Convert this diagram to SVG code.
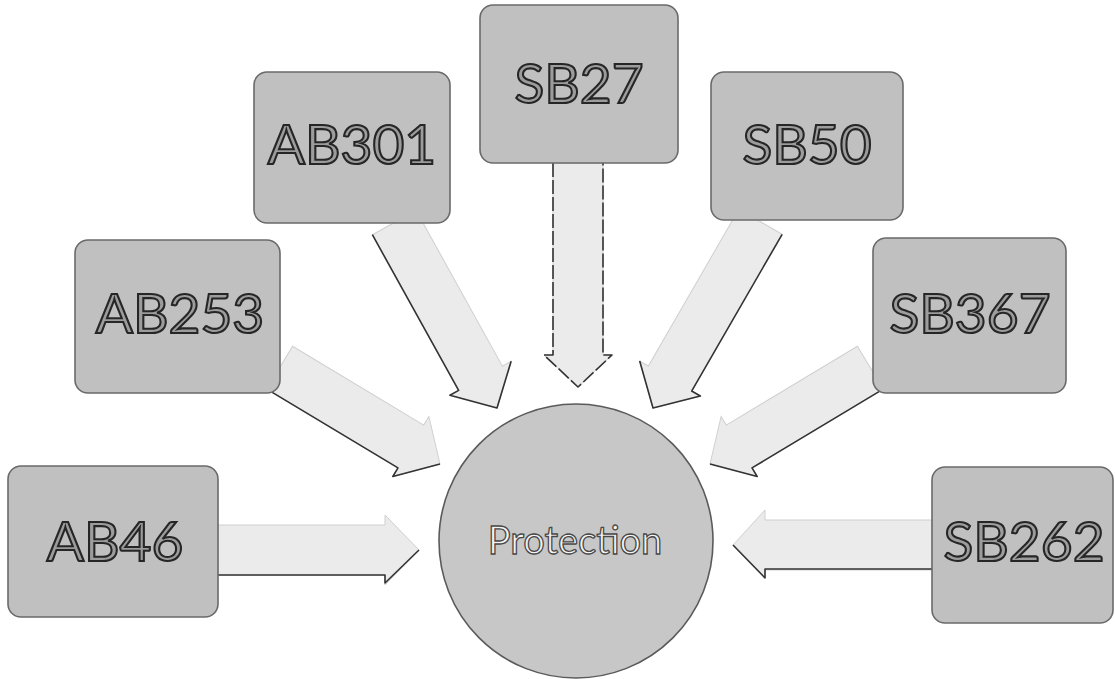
<svg xmlns="http://www.w3.org/2000/svg" width="1115" height="679" viewBox="0 0 1115 679">
<style>
  .box{fill:#c0c0c0;stroke:#6a6a6a;stroke-width:1.6}
  .lbl{font-family:Lato,"Open Sans","Liberation Sans",sans-serif;font-size:55px;fill:#9c9c9c;stroke:#262626;stroke-width:2.1;text-anchor:middle}
  .ctr{font-family:Lato,"Open Sans","Liberation Sans",sans-serif;font-size:38px;fill:#f4f4f4;stroke:#484848;stroke-width:1.3;text-anchor:middle}
  .arw{fill:#ebebeb;stroke:#cfcfcf;stroke-width:1}
  .edge{fill:none;stroke:#333;stroke-width:1.6;stroke-linejoin:round}
  .circ{fill:#c7c7c7;stroke:#5a5a5a;stroke-width:1.6}
</style>
<rect width="1115" height="679" fill="#ffffff"/>
<g id="connectors">
  <!-- AB46 -->
  <g transform="translate(419,550)">
    <path class="arw" d="M0,0 L-34,-35 L-34,-25 L-202,-25 L-202,25 L-34,25 L-34,35 Z"/>
    <path class="edge" d="M-202,25 L-34,25 L-34,33 L0,0"/>
  </g>
  <!-- AB253 -->
  <g transform="translate(440,464) rotate(31)">
    <path class="arw" d="M0,0 L-34,-35 L-34,-25 L-187,-25 L-187,25 L-34,25 L-34,35 Z"/>
    <path class="edge" d="M-187,25 L-34,25 L-34,35 L0,0"/>
  </g>
  <!-- AB301 -->
  <g transform="translate(497,408) rotate(61)">
    <path class="arw" d="M0,0 L-34,-35 L-34,-25 L-212,-25 L-212,25 L-34,25 L-34,35 Z"/>
    <path class="edge" d="M-212,25 L-34,25 L-34,35 L0,0 L-34,-35"/>
  </g>
  <!-- SB27 -->
  <g transform="translate(578,387) rotate(90)">
    <path class="arw" d="M0,0 L-32,-34 L-32,-25 L-224,-25 L-224,25 L-32,25 L-32,34 Z"/>
    <path class="edge" d="M-224,25 L-32,25 L-32,34 L0,0 L-32,-34 L-32,-25 L-224,-25" stroke-dasharray="14 3"/>
  </g>
  <!-- SB50 -->
  <g transform="translate(653,408) scale(-1,1) rotate(60)">
    <path class="arw" d="M0,0 L-34,-35 L-34,-25 L-215,-25 L-215,25 L-34,25 L-34,35 Z"/>
    <path class="edge" d="M-215,25 L-34,25 L-34,35 L0,0 L-34,-35"/>
  </g>
  <!-- SB367 -->
  <g transform="translate(710,464) scale(-1,1) rotate(31)">
    <path class="arw" d="M0,0 L-34,-35 L-34,-25 L-187,-25 L-187,25 L-34,25 L-34,35 Z"/>
    <path class="edge" d="M-187,25 L-34,25 L-34,35 L0,0"/>
  </g>
  <!-- SB262 -->
  <g transform="translate(733,545) scale(-1,1)">
    <path class="arw" d="M0,0 L-32,-35 L-32,-25 L-199,-25 L-199,25 L-32,25 L-32,33 L0,0 Z"/>
    <path class="edge" d="M-199,24 L-32,24 L-32,33 L0,0"/>
  </g>
</g>
<g id="node-protection">
  <circle class="circ" cx="576" cy="541" r="137"/>
  <text class="ctr" x="575" y="554">Protection</text>
</g>
<g id="node-ab46">
  <rect class="box" x="8" y="466" width="210" height="151" rx="13"/>
  <text class="lbl" x="115" y="561">AB46</text>
</g>
<g id="node-ab253">
  <rect class="box" x="75" y="240" width="205" height="153" rx="13"/>
  <text class="lbl" x="180" y="333">AB253</text>
</g>
<g id="node-ab301">
  <rect class="box" x="254" y="72" width="196" height="151" rx="13"/>
  <text class="lbl" x="352" y="164">AB301</text>
</g>
<g id="node-sb27">
  <rect class="box" x="480" y="5" width="198" height="158" rx="13"/>
  <text class="lbl" x="579" y="103">SB27</text>
</g>
<g id="node-sb50">
  <rect class="box" x="711" y="72" width="192" height="148" rx="13"/>
  <text class="lbl" x="807" y="164">SB50</text>
</g>
<g id="node-sb367">
  <rect class="box" x="873" y="238" width="193" height="155" rx="13"/>
  <text class="lbl" x="970" y="333">SB367</text>
</g>
<g id="node-sb262">
  <rect class="box" x="932" y="467" width="181" height="156" rx="13"/>
  <text class="lbl" x="1024" y="561">SB262</text>
</g>
</svg>
